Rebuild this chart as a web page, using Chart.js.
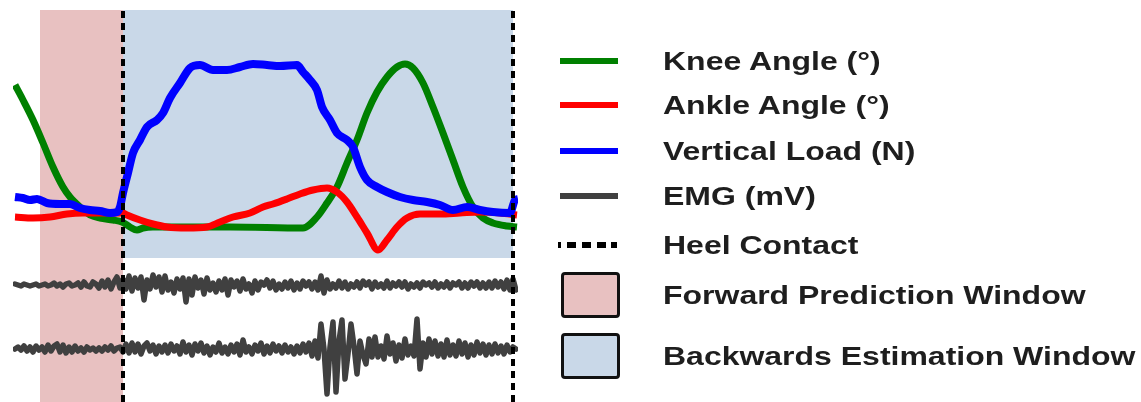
<!DOCTYPE html>
<html>
<head>
<meta charset="utf-8">
<script src="https://cdn.jsdelivr.net/npm/chart.js@4.4.1/dist/chart.umd.min.js"></script>
<style>
  html, body { margin: 0; padding: 0; background: #fff; width: 1141px; height: 402px; overflow: hidden; }
  #wrap { position: relative; width: 1141px; height: 402px; }
  #plot { position: absolute; left: 0; top: 0; }
  #legend { position: absolute; left: 0; top: 0; width: 1141px; height: 402px; pointer-events: none; }
  .item { position: absolute; left: 560px; height: 0; }
  .swatch { position: absolute; left: 0; box-sizing: border-box; }
  .label {
    position: absolute; left: 103px; top: 0; white-space: nowrap;
    font-family: "Liberation Sans", Arial, Helvetica, sans-serif; font-weight: bold;
    font-size: 26px; line-height: 26px; color: #1e1e1e;
    transform-origin: 0 0; transform: scaleX(1.23) translateY(-50%);
  }
</style>
</head>
<body>
<div id="wrap">
  <canvas id="plot" width="522" height="402"></canvas>
  <div id="legend"></div>
</div>
<script>
// Time axis: frames relative to the first heel contact (stride = 390 frames).
const HEEL_CONTACTS = [0, 390];
const FORWARD_WINDOW = [-83, 0];
const BACKWARD_WINDOW = [0, 390];

// Joint angles and vertical load, normalized amplitude (a.u.)
const kneeFrames = [-108,-100,-90,-80,-70,-60,-53,-43,-33,-23,-10,-1,7,14,20,30,44,107,180,194,204,214,224,234,244,254,264,274,282,290,300,310,320,330,340,350,360,370,384,394];
const kneeValues = [173,158,138,115,91,71,61,51,43,40,38,36,31,28,30,31,31,31,30,41,55,71,95,118,145,166,181,191,194,190,175,151,125,98,71,51,40,35,32,31];

const ankleFrames = [-108,-90,-73,-56,-40,-23,-10,0,4,17,30,44,64,84,97,110,127,140,150,164,177,190,204,214,224,234,244,255,264,274,284,297,317,337,357,377,394];
const ankleValues = [41,40,41,44,45,45,45,45,43,38,34,31,30,31,36,41,45,51,54,59,64,68,70,66,56,41,25,8,18,31,40,44,44,45,46,45,43];

const loadFrames = [-108,-100,-93,-86,-76,-63,-53,-43,-33,-23,-13,-6,-3,0,5,10,17,24,34,40,47,57,67,77,90,104,117,130,144,157,174,180,187,194,199,207,214,224,230,237,244,254,264,277,290,304,317,330,344,357,370,387,392,395];
const loadValues = [61,60,58,59,55,54,54,50,48,47,45,46,51,65,85,105,118,131,138,145,160,175,190,193,188,188,191,194,193,192,193,186,178,168,151,138,125,118,111,91,78,71,66,61,58,56,53,48,51,48,46,45,58,59];

// EMG channels (mV), sampled every 3 frames starting at frame -108
const EMG_START = -108;
const EMG_STEP = 3;
const emgChannel1 = [
  .01,0,-.01,.01,0,-.01,0,.01,-.01,0,
  .01,-.01,0,.02,-.01,.01,-.02,.01,.02,-.01,
  0,.02,-.02,.03,-.01,-.02,.03,.01,-.03,.04,
  -.02,.05,-.04,.03,.08,-.03,.06,-.04,.09,-.06,
  .07,-.03,.08,-.15,.05,-.04,.10,-.02,.08,-.07,
  .09,-.05,.03,-.08,.06,-.04,.07,-.17,.06,-.10,
  .08,-.03,.05,-.09,.07,-.05,.02,-.07,.04,-.05,
  .06,-.10,.05,-.02,.04,-.06,.06,-.04,.01,-.08,
  .04,-.05,.03,0,.05,-.03,.04,-.05,.01,-.04,
  .03,-.03,.04,-.05,.02,-.04,.04,-.01,.03,-.04,
  .03,-.05,.09,-.08,.05,-.04,.01,-.03,.04,-.03,
  .03,-.04,.01,-.02,.03,-.03,.04,0,.03,-.04,
  .03,-.02,.01,-.03,.04,-.03,.02,-.01,.03,-.02,
  .03,-.04,.01,-.02,.02,-.03,.03,0,.02,-.02,
  .03,-.03,.01,-.02,.03,-.03,.02,0,.03,-.03,
  .02,-.03,.03,-.01,.03,-.03,.02,-.03,.03,-.03,
  .04,-.02,.03,-.04,.05,-.05,.06,-.05
];
const emgChannel2 = [
  0,.02,-.01,.03,-.02,.02,-.03,.03,-.01,.02,
  -.03,.04,-.02,.03,.05,-.03,.04,-.04,.02,-.03,
  .03,-.02,.01,-.03,.02,-.01,.01,-.02,.01,-.02,
  .02,-.01,.03,-.02,.01,.02,-.03,.05,-.04,.06,
  -.03,.05,-.05,.03,.06,-.02,.04,-.05,.03,-.03,
  .04,-.04,.05,-.02,.03,-.05,.07,-.03,.04,-.06,
  .05,-.02,.06,-.04,.03,-.06,.02,-.03,.06,-.04,
  .02,-.05,.04,-.03,.05,-.06,.09,-.03,.02,-.05,
  .04,-.02,.06,-.05,.03,-.04,.05,-.02,.03,-.04,
  .04,-.03,.02,-.05,.03,-.04,.05,-.03,.06,-.07,
  .08,-.09,.25,0,-.45,.02,.27,-.43,.08,.29,
  -.30,-.05,.25,.03,-.25,.08,-.06,-.15,.10,-.08,
  .12,-.08,.03,-.10,.13,-.05,.06,-.12,.04,-.09,
  .10,-.06,.03,-.07,.30,-.20,.06,-.08,.10,-.05,
  .08,-.07,.05,-.08,.09,-.06,.04,-.07,.08,-.05,
  .06,-.08,.04,-.06,.07,-.04,.05,-.06,.04,-.05,
  .05,-.04,.03,-.05,.04,-.03,.02,0
];
// Display offsets that stack the two EMG channels (mV)
const EMG_OFFSETS = [0.64, 0];

const COLORS = {
  knee: '#008000', ankle: '#ff0000', load: '#0000ff', emg: '#404040',
  heel: '#000000', forward: '#e8c1c1', backward: '#c9d8e8'
};

const zip = (xs, ys) => xs.map((x, i) => ({ x, y: ys[i] }));
const emgPoints = (vals, offset) => vals.map((v, i) => ({ x: EMG_START + i * EMG_STEP, y: v + offset }));

const Y_MIN = -144, Y_MAX = 248;

const curve = (label, data, color, width, order) => ({
  type: 'line', label, data, borderColor: color, backgroundColor: color,
  borderWidth: width, pointRadius: 0, cubicInterpolationMode: 'monotone',
  borderCapStyle: 'butt', borderJoinStyle: 'round', fill: false, order, yAxisID: 'y',
  legendKind: 'line'
});
const emgTrace = (data) => ({
  type: 'line', label: 'EMG (mV)', data, borderColor: COLORS.emg, backgroundColor: COLORS.emg,
  borderWidth: 5.5, pointRadius: 0, tension: 0, borderJoinStyle: 'round', borderCapStyle: 'round',
  fill: false, order: 3, yAxisID: 'yEmg', legendKind: 'line'
});
const heelLine = (frame) => ({
  type: 'line', label: 'Heel Contact',
  data: [{ x: frame, y: Y_MIN }, { x: frame, y: Y_MAX }],
  borderColor: COLORS.heel, borderWidth: 4, borderDash: [7, 5], borderCapStyle: 'butt',
  pointRadius: 0, fill: false, order: 0, yAxisID: 'y', legendKind: 'dash'
});
const windowBox = (label, range, color, fillTarget) => ({
  type: 'line', label,
  data: [{ x: range[0], y: Y_MAX }, { x: range[1], y: Y_MAX }],
  borderWidth: 0, borderColor: 'rgba(0,0,0,0)', backgroundColor: color,
  pointRadius: 0, fill: fillTarget, order: 10, yAxisID: 'y', legendKind: 'box'
});

const datasets = [
  curve('Knee Angle (°)', zip(kneeFrames, kneeValues), COLORS.knee, 7, 4),
  curve('Ankle Angle (°)', zip(ankleFrames, ankleValues), COLORS.ankle, 7, 3.5),
  curve('Vertical Load (N)', zip(loadFrames, loadValues), COLORS.load, 8, 2),
  emgTrace(emgPoints(emgChannel1, EMG_OFFSETS[0])),
  emgTrace(emgPoints(emgChannel2, EMG_OFFSETS[1])),
  heelLine(HEEL_CONTACTS[0]),
  heelLine(HEEL_CONTACTS[1]),
  windowBox('Forward Prediction Window', FORWARD_WINDOW, COLORS.forward, 'start'),
  windowBox('Backwards Estimation Window', BACKWARD_WINDOW, COLORS.backward, { value: 0 })
];

// Legend rows (vertical centres in page pixels)
const LEGEND_ROW_Y = [61, 105, 151, 196, 245, 295, 356];

const htmlLegend = {
  id: 'htmlLegend',
  afterUpdate(chart) {
    const host = document.getElementById('legend');
    host.innerHTML = '';
    const seen = new Set();
    let row = 0;
    chart.data.datasets.forEach(ds => {
      if (seen.has(ds.label)) return;
      seen.add(ds.label);
      const item = document.createElement('div');
      item.className = 'item';
      item.style.top = LEGEND_ROW_Y[row++] + 'px';
      const sw = document.createElement('div');
      sw.className = 'swatch';
      if (ds.legendKind === 'box') {
        Object.assign(sw.style, {
          left: '1px', top: '-23px', width: '59px', height: '46px',
          border: '3px solid #111', borderRadius: '4px', background: ds.backgroundColor
        });
      } else if (ds.legendKind === 'dash') {
        Object.assign(sw.style, {
          left: '-2px', top: '-3px', width: '59px', height: '6px',
          background: 'repeating-linear-gradient(to right, #000 0 9px, transparent 9px 15px)',
          backgroundPosition: '-6px 0'
        });
      } else {
        Object.assign(sw.style, {
          left: '0px', top: '-3px', width: '58px', height: '6px', background: ds.borderColor
        });
      }
      const lab = document.createElement('div');
      lab.className = 'label';
      lab.textContent = ds.label;
      item.appendChild(sw);
      item.appendChild(lab);
      host.appendChild(item);
    });
  }
};

new Chart(document.getElementById('plot'), {
  type: 'line',
  data: { datasets },
  options: {
    responsive: false,
    animation: false,
    devicePixelRatio: 1,
    layout: { padding: { left: 13, right: 4, top: 10, bottom: 0 } },
    plugins: { legend: { display: false }, tooltip: { enabled: false } },
    scales: {
      x: { type: 'linear', min: -110, max: 395, display: false },
      y: { type: 'linear', min: Y_MIN, max: Y_MAX, display: false },
      yEmg: { type: 'linear', min: -0.53, max: 3.39, display: false }
    }
  },
  plugins: [htmlLegend]
});
</script>
</body>
</html>
